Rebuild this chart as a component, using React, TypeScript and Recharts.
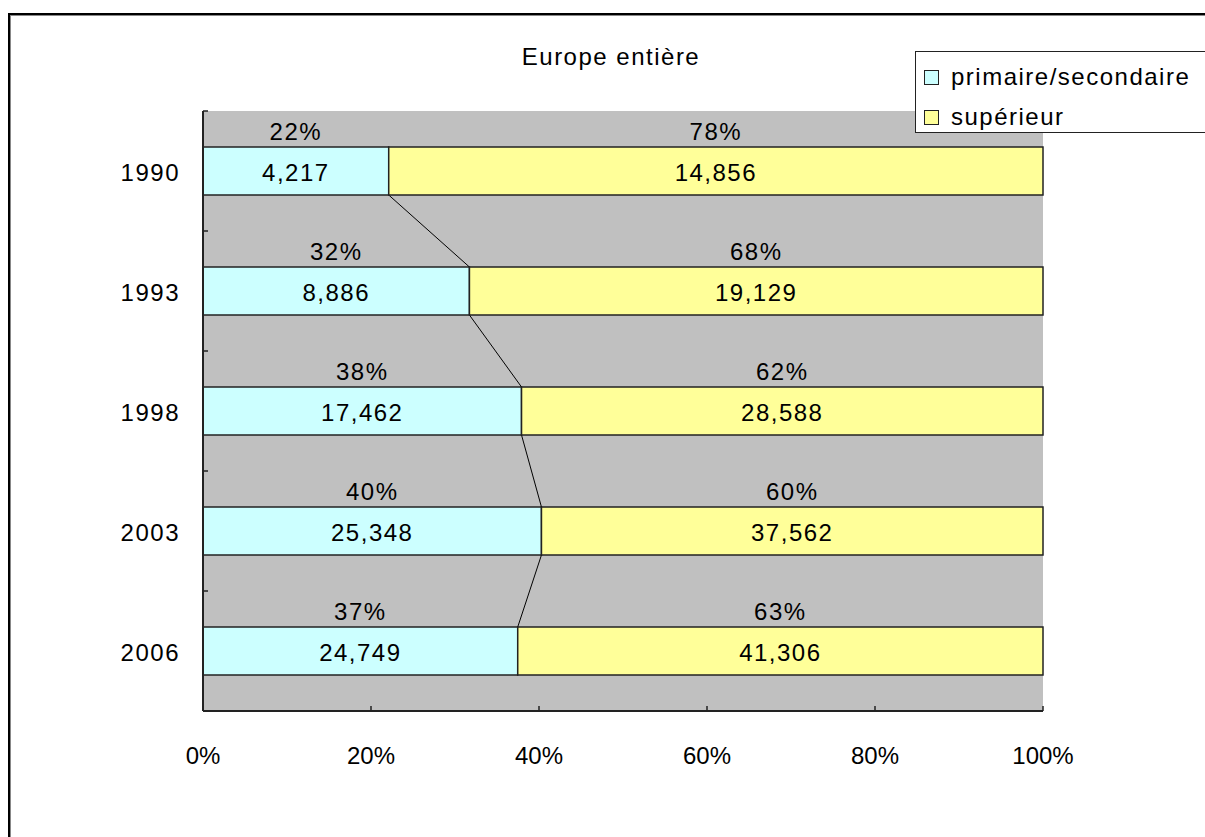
import { BarChart, Bar, XAxis, YAxis, CartesianGrid, LabelList } from 'recharts';

const years = ['1990', '1993', '1998', '2003', '2006'];
const primaire = [4217, 8886, 17462, 25348, 24749];
const superieur = [14856, 19129, 28588, 37562, 41306];
const xTicks = [0, 0.2, 0.4, 0.6, 0.8, 1];

const FONT = '"Liberation Sans", Arial, sans-serif';
const CYAN = '#CCFFFF';
const YELLOW = '#FFFF99';
const GREY = '#C0C0C0';
const EDGE = '#222';

const data = years.map((y, i) => ({ year: y, primaire: primaire[i], superieur: superieur[i] }));

const pct = (v: number, i: number) => Math.round((v / (primaire[i] + superieur[i])) * 100) + '%';
const fmt = (v: number) => v.toLocaleString('en-US');

// right edges of the cyan bars, filled while bars render (used for the series lines)
const ends: { x: number; top: number; bottom: number }[] = [];

function CyanBar(props: any) {
  const { x, y, width, height, index } = props;
  ends[index] = { x: x + width, top: y, bottom: y + height };
  const prev = index > 0 ? ends[index - 1] : null;
  return (
    <g>
      <rect x={x} y={y} width={width} height={height} fill={CYAN} stroke={EDGE} strokeWidth={1.5} />
      {prev && <line x1={prev.x} y1={prev.bottom} x2={x + width} y2={y} stroke="#000" strokeWidth={1} />}
    </g>
  );
}

function YellowBar(props: any) {
  const { x, y, width, height } = props;
  return <rect x={x} y={y} width={width} height={height} fill={YELLOW} stroke={EDGE} strokeWidth={1.5} />;
}

const makeLabel = (values: number[]) => (props: any) => {
  const { x, y, width, height, index } = props;
  const cx = x + width / 2;
  return (
    <g fontFamily={FONT} fontSize={24} fill="#000" letterSpacing={1.5}>
      <text x={cx} y={y + height / 2 + 1} textAnchor="middle" dominantBaseline="central">
        {fmt(values[index])}
      </text>
      <text x={cx} y={y - 16} textAnchor="middle" dominantBaseline="central">
        {pct(values[index], index)}
      </text>
    </g>
  );
};

function YTick(props: any) {
  const { x, y, payload } = props;
  const off = payload && typeof payload.offset === 'number' ? payload.offset : 0;
  return (
    <g>
      {off > 0 && <line x1={x} y1={y - off} x2={x + 5} y2={y - off} stroke={EDGE} strokeWidth={1.5} />}
      <text x={x - 23} y={y + 1} textAnchor="end" dominantBaseline="central" fontFamily={FONT} fontSize={24} letterSpacing={1.5} fill="#000">
        {payload.value}
      </text>
    </g>
  );
}

function XTick(props: any) {
  const { x, y, payload } = props;
  return (
    <g>
      <line x1={x} y1={y} x2={x} y2={y - 5} stroke={EDGE} strokeWidth={1.5} />
      <text x={x} y={y + 44} textAnchor="middle" dominantBaseline="central" fontFamily={FONT} fontSize={24} letterSpacing={0} fill="#000">
        {Math.round(payload.value * 100) + '%'}
      </text>
    </g>
  );
}

export default function App() {
  return (
    <div style={{ position: 'absolute', left: 0, top: 0, width: 1205, height: 837, overflow: 'hidden', background: '#fff' }}>
      <div
        style={{
          position: 'absolute',
          left: 8,
          top: 13,
          width: 1400,
          height: 1000,
          border: '2px solid #000',
          boxShadow: 'inset 1px 1px 0 #888',
        }}
      />
      <div style={{ position: 'absolute', left: 0, top: 0 }}>
        <BarChart
          width={1205}
          height={837}
          data={data}
          layout="vertical"
          stackOffset="expand"
          barCategoryGap="30%"
          margin={{ top: 111, right: 162, bottom: 66, left: 103 }}
        >
          <CartesianGrid fill={GREY} stroke="none" />
          <XAxis
            type="number"
            domain={[0, 1]}
            ticks={xTicks}
            tick={<XTick />}
            tickLine={false}
            tickSize={0}
            tickMargin={0}
            height={60}
            axisLine={{ stroke: EDGE, strokeWidth: 2 }}
          />
          <YAxis
            type="category"
            dataKey="year"
            width={100}
            tick={<YTick />}
            tickLine={false}
            tickSize={0}
            tickMargin={0}
            axisLine={{ stroke: EDGE, strokeWidth: 2 }}
          />
          <Bar dataKey="primaire" stackId="a" shape={CyanBar} isAnimationActive={false}>
            <LabelList content={makeLabel(primaire)} />
          </Bar>
          <Bar dataKey="superieur" stackId="a" shape={YellowBar} isAnimationActive={false}>
            <LabelList content={makeLabel(superieur)} />
          </Bar>
        </BarChart>
      </div>
      <div
        style={{
          position: 'absolute',
          left: 611,
          top: 57,
          transform: 'translate(-50%, -50%)',
          fontFamily: FONT,
          fontSize: 24,
          letterSpacing: 1.5,
          whiteSpace: 'nowrap',
        }}
      >
        Europe entière
      </div>
      <div
        style={{
          position: 'absolute',
          left: 915,
          top: 51,
          width: 400,
          height: 80,
          border: '1.5px solid #222',
          background: '#fff',
          fontFamily: FONT,
          fontSize: 24,
          letterSpacing: 1.5,
        }}
      >
        {[
          { name: 'primaire/secondaire', color: CYAN },
          { name: 'supérieur', color: YELLOW },
        ].map((it, i) => (
          <div key={i} style={{ position: 'absolute', left: 8, top: 25 + i * 40, transform: 'translateY(-50%)', display: 'flex', alignItems: 'center', whiteSpace: 'nowrap' }}>
            <span style={{ display: 'inline-block', width: 13, height: 13, background: it.color, border: '1.5px solid #222', marginRight: 12 }} />
            {it.name}
          </div>
        ))}
      </div>
    </div>
  );
}
